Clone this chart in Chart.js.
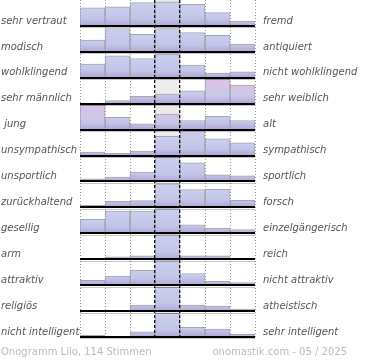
<!DOCTYPE html>
<html><head><meta charset="utf-8">
<script src="https://cdn.jsdelivr.net/npm/chart.js@4.4.1/dist/chart.umd.min.js"></script>
<style>html,body{margin:0;padding:0;background:#fff;}</style>
</head><body>
<canvas id="c" width="370" height="360"></canvas>
<script>
// Columns of the 7-step scale
const columns = ['1','2','3','4','5','6','7'];
const leftLabels = ['sehr vertraut','modisch','wohlklingend','sehr männlich',' jung','unsympathisch','unsportlich','zurückhaltend','gesellig','arm','attraktiv','religiös','nicht intelligent'];
const rightLabels = ['fremd','antiquiert','nicht wohlklingend','sehr weiblich','alt','sympathisch','sportlich','forsch','einzelgängerisch','reich','nicht attraktiv','atheistisch','sehr intelligent'];
// bar heights (percent of a row) per column
const vertraut      = [70,74,90,93,83,51,19];
const modisch       = [45,90,68,90,74,64,30];
const wohlklingend  = [53,85,74,91,49,18,23];
const maennlich     = [0,12,28,37,50,95,72];
const jung          = [95,47,22,60,35,51,35];
const unsympathisch = [13,9,17,74,96,64,49];
const unsportlich   = [10,17,36,93,72,26,22];
const zurueck       = [8,23,26,91,69,70,27];
const gesellig      = [54,86,86,95,33,20,14];
const arm           = [0,9,13,95,13,13,0];
const attraktiv     = [19,35,57,95,45,15,10];
const religioes     = [0,0,23,93,23,19,8];
const intelligent   = [6,0,20,91,37,31,10];
const rows = [vertraut,modisch,wohlklingend,maennlich,jung,unsympathisch,unsportlich,zurueck,gesellig,arm,attraktiv,religioes,intelligent];
const pinkBars = [[3,5],[3,6],[4,0],[4,3]];
const footerLeft = 'Onogramm Lilo, 114 Stimmen';
const footerRight = 'onomastik.com - 05 / 2025';

const N = rows.length;
const rowBase = r => N - 1 - r;

function barFill(r){
  return (ctx) => {
    const chart = ctx.chart;
    if (!chart.chartArea || !ctx.raw || !Array.isArray(ctx.raw)) return '#c3c7e8';
    const ys = chart.scales.y;
    const top = ys.getPixelForValue(ctx.raw[1]);
    const bot = ys.getPixelForValue(ctx.raw[0]);
    const h = Math.max(bot - top, 1);
    const g = chart.ctx.createLinearGradient(0, top, 0, bot);
    const pink = pinkBars.some(([pr,pc]) => pr === r && pc === ctx.dataIndex);
    g.addColorStop(0, pink ? '#dcc3e6' : '#cbcfee');
    g.addColorStop(Math.max(0.05, 1 - 7 / h), pink ? '#c7c8e9' : '#c2c5e7');
    g.addColorStop(1, '#b0a5d7');
    return g;
  };
}

const datasets = rows.map((vals, r) => ({
  label: leftLabels[r],
  data: vals.map(v => v > 0 ? [rowBase(r), rowBase(r) + v / 100] : null),
  backgroundColor: barFill(r),
  borderColor: 'rgba(150,150,165,0.85)',
  borderWidth: {top: 1, left: 1, right: 1, bottom: 0},
  borderSkipped: false,
  order: 1
}));
datasets.push({
  label: 'mitte',
  data: columns.map((c, i) => i === 3 ? [0, N] : null),
  backgroundColor: '#ececec',
  borderWidth: 0,
  order: 5
});

const labelFont = {family: 'DejaVu Sans', size: 10, style: 'italic'};
function fixFit(w){ return s => { s.width = w; s.paddingTop = 0; s.paddingBottom = 0; }; }

new Chart(document.getElementById('c'), {
  type: 'bar',
  data: {labels: columns, datasets},
  options: {
    responsive: false,
    animation: false,
    devicePixelRatio: 1,
    grouped: false,
    barPercentage: 1,
    categoryPercentage: 1,
    layout: {padding: {left: 1, right: 0, top: -1, bottom: 23}},
    plugins: {legend: {display: false}, tooltip: {enabled: false}},
    scales: {
      x: {
        type: 'category', offset: true,
        ticks: {display: false},
        grid: {
          offset: true, drawTicks: false, z: 1,
          color: ctx => { const i = ctx.index ?? 7; return (i === 3 || i === 4) ? '#111' : '#999'; },
          lineWidth: ctx => { const i = ctx.index ?? 7; return (i === 3 || i === 4) ? 1.3 : 1; }
        },
        border: {display: false, dash: ctx => { const i = ctx.index ?? 7; return (i === 3 || i === 4) ? [3,2] : [1,2]; }},
        afterFit: s => { s.height = 0; s.paddingLeft = 0; s.paddingRight = 0; }
      },
      y: {type: 'linear', min: 0, max: N, display: false},
      yl: {
        type: 'linear', position: 'left', min: 0, max: N,
        afterBuildTicks: s => { s.ticks = leftLabels.map((_, r) => ({value: rowBase(r) + 0.19})); },
        ticks: {autoSkip: false, crossAlign: 'far', padding: 0, color: '#555', font: labelFont,
                callback: (v, i) => leftLabels[i]},
        grid: {display: false, drawTicks: false},
        border: {display: false},
        afterFit: fixFit(79)
      },
      yr: {
        type: 'linear', position: 'right', min: 0, max: N,
        afterBuildTicks: s => { s.ticks = rightLabels.map((_, r) => ({value: rowBase(r) + 0.19})); },
        ticks: {autoSkip: false, crossAlign: 'near', padding: 8, color: '#555', font: labelFont,
                callback: (v, i) => rightLabels[i]},
        grid: {display: false, drawTicks: false},
        border: {display: false},
        afterFit: fixFit(115)
      },
      ys: {
        type: 'linear', position: 'left', min: 0, max: N,
        afterBuildTicks: s => { s.ticks = rows.map((_, r) => ({value: rowBase(r) - 0.075})); },
        ticks: {display: false},
        grid: {drawTicks: false, z: 2, color: 'rgba(0,0,0,0.22)', lineWidth: 1},
        border: {display: false},
        afterFit: fixFit(0)
      },
      yb: {
        type: 'linear', position: 'left', min: 0, max: N,
        afterBuildTicks: s => { s.ticks = rows.map((_, r) => ({value: rowBase(r)})); },
        ticks: {display: false},
        grid: {drawTicks: false, z: 3, color: '#000', lineWidth: 2},
        border: {display: false},
        afterFit: fixFit(0)
      }
    }
  },
  plugins: [{
    id: 'footer',
    afterDraw(chart){
      const c = chart.ctx;
      c.save();
      c.font = '10px "DejaVu Sans"';
      c.fillStyle = '#bbb';
      c.textBaseline = 'middle';
      c.textAlign = 'left';
      c.fillText(footerLeft, 1, 352);
      c.textAlign = 'right';
      c.fillText(footerRight, 347, 352);
      c.restore();
    }
  }]
});
</script>
</body></html>
